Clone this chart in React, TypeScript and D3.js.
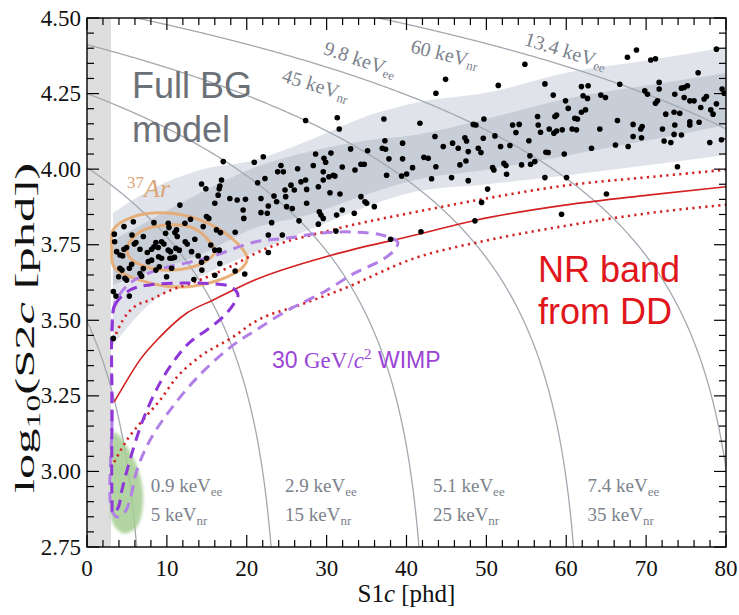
import React from 'react';
import * as d3 from 'd3';

const WIDTH = 739;
const HEIGHT = 615;

// Axes
const X_DOMAIN = [0, 80];
const Y_DOMAIN = [2.75, 4.5];
const X_MAJOR = [0, 10, 20, 30, 40, 50, 60, 70, 80];
const Y_MAJOR = [2.75, 3.0, 3.25, 3.5, 3.75, 4.0, 4.25, 4.5];
const S1_THRESHOLD = 3;

// Detector constants used for constant-energy contours
const G1 = 0.1136;
const G2 = 47.1;
const W_KEV = 0.0135;
const CONTOUR_KEVEE = [0.9, 2.9, 5.1, 7.4, 9.8, 13.4];
const CONTOUR_KEVNR = [5, 15, 25, 35, 45, 60];

// Background model bands (S1c, log10 S2c)
const BAND_S1 = [3.25, 7.88, 14.14, 21.03, 27.9, 35.42, 41.05, 50.44, 60.45, 70.46, 80];
const OUTER_TOP = [3.855, 3.931, 3.997, 4.03, 4.096, 4.179, 4.219, 4.255, 4.321, 4.361, 4.404];
const OUTER_BOTTOM = [3.418, 3.555, 3.645, 3.725, 3.8, 3.88, 3.925, 3.951, 3.981, 4.014, 4.047];
const INNER_TOP = [3.766, 3.832, 3.921, 4.006, 4.058, 4.096, 4.113, 4.169, 4.235, 4.278, 4.318];
const INNER_BOTTOM = [3.617, 3.66, 3.716, 3.805, 3.85, 3.92, 3.964, 4.0, 4.047, 4.096, 4.146];

// 37Ar contours
const AR_OUTER = [[3.3, 3.8], [5.76, 3.842], [10.0, 3.855], [14.14, 3.832], [17.9, 3.776], [20.0, 3.712], [19.8, 3.685], [17.5, 3.643], [12.0, 3.61], [6.63, 3.633], [3.4, 3.676], [3.1, 3.74]];
const AR_INNER = [[5.0, 3.739], [6.6, 3.792], [10.0, 3.815], [13.3, 3.805], [15.4, 3.759], [16.0, 3.726], [14.5, 3.69], [10.8, 3.666], [7.5, 3.676], [5.4, 3.706]];

// Low-energy region
const GREEN_REGION = [[3.4, 3.13], [5.3, 3.07], [6.7, 2.98], [7.0, 2.89], [6.2, 2.815], [4.6, 2.795], [3.2, 2.83], [3.0, 2.97], [3.0, 3.08]];

// 30 GeV WIMP contours
const WIMP_INNER = [[3.13, 3.468], [3.5, 3.55], [5.38, 3.6], [7.88, 3.617], [12.0, 3.623], [16.0, 3.62], [18.1, 3.61], [18.9, 3.584], [18.3, 3.551], [16.9, 3.508], [15.0, 3.468], [12.9, 3.428], [11.26, 3.379], [9.14, 3.293], [7.0, 3.17], [5.38, 3.038], [4.38, 2.939], [3.88, 2.879], [3.25, 2.862], [3.13, 2.906], [3.13, 3.236]];
const WIMP_OUTER = [[3.13, 2.87], [3.13, 3.17], [3.13, 3.468], [3.5, 3.557], [5.38, 3.623], [8.76, 3.666], [12.5, 3.69], [15.4, 3.709], [21.0, 3.759], [25.2, 3.772], [29.4, 3.789], [33.5, 3.792], [36.9, 3.782], [38.9, 3.759], [38.5, 3.733], [36.9, 3.699], [33.5, 3.656], [29.4, 3.59], [25.2, 3.534], [21.0, 3.465], [18.3, 3.418], [14.1, 3.319], [10.4, 3.203], [7.9, 3.104], [6.26, 3.005], [5.38, 2.906], [4.76, 2.866], [3.88, 2.849]];

// NR band from DD calibration
const NR_MEDIAN = [[3.4, 3.23], [4.5, 3.279], [6.63, 3.369], [9.14, 3.445], [12.5, 3.524], [15.8, 3.567], [21.0, 3.633], [30.7, 3.716], [41.1, 3.782], [48.8, 3.832], [59.8, 3.881], [70.2, 3.914], [80, 3.942]];
const NR_UPPER = [[3.3, 3.435], [4.5, 3.501], [5.76, 3.541], [7.9, 3.567], [10.0, 3.594], [14.1, 3.633], [19.1, 3.693], [21.0, 3.72], [30.7, 3.799], [41.1, 3.858], [50.4, 3.905], [60.5, 3.948], [70.5, 3.974], [80, 3.998]];
const NR_LOWER = [[3.4, 3.031], [5.0, 3.104], [7.0, 3.17], [9.14, 3.236], [11.26, 3.312], [14.1, 3.379], [18.3, 3.445], [21.0, 3.495], [26.7, 3.551], [31.7, 3.6], [41.1, 3.706], [50.4, 3.766], [60.5, 3.815], [70.5, 3.855], [80, 3.882]];

// Observed events (S1c [phd], log10 S2c [phd])
const EVENTS = [
  [14.34, 3.951], [14.88, 3.935], [16.84, 3.964], [16.63, 3.944], [16.55, 3.935], [16.42, 3.914], [16.0, 3.887], [17.88, 3.903], [18.8, 3.898], [19.84, 3.9],
  [11.63, 3.881], [19.55, 3.865], [19.63, 3.837], [14.96, 3.843], [15.25, 3.837], [12.96, 3.834], [12.26, 3.821], [8.38, 3.823], [10.17, 3.821], [5.8, 3.826],
  [4.63, 3.81], [10.26, 3.807], [11.21, 3.799], [11.0, 3.79], [9.84, 3.788], [14.55, 3.81], [16.21, 3.799], [16.71, 3.79], [18.55, 3.791], [3.42, 3.785],
  [3.46, 3.76], [5.63, 3.782], [5.92, 3.752], [7.05, 3.777], [6.13, 3.757], [8.63, 3.757], [9.34, 3.76], [9.63, 3.752], [8.38, 3.743], [8.92, 3.741],
  [8.09, 3.735], [7.55, 3.724], [6.63, 3.735], [4.96, 3.741], [3.71, 3.727], [4.46, 3.713], [4.63, 3.735], [4.13, 3.716], [7.67, 3.694], [8.09, 3.699],
  [10.17, 3.732], [10.46, 3.727], [11.13, 3.738], [11.3, 3.777], [12.3, 3.76], [12.55, 3.752], [13.09, 3.727], [13.5, 3.768], [13.92, 3.713], [14.34, 3.692],
  [14.96, 3.705], [15.5, 3.749], [16.0, 3.732], [16.55, 3.732], [16.63, 3.688], [14.38, 3.666], [13.38, 3.635], [11.55, 3.732], [10.67, 3.705], [10.96, 3.708],
  [10.38, 3.705], [8.96, 3.71], [9.34, 3.705], [9.05, 3.677], [10.59, 3.672], [9.96, 3.644], [8.63, 3.666], [7.05, 3.671], [6.63, 3.655], [6.84, 3.646],
  [5.59, 3.685], [5.3, 3.672], [4.13, 3.672], [4.38, 3.666], [4.75, 3.639], [4.96, 3.633], [3.96, 3.644], [3.3, 3.595], [3.63, 3.58], [5.3, 3.58],
  [18.55, 3.663], [19.75, 3.653], [16.0, 3.649], [3.29, 3.44],
  [17.06, 4.025], [20.94, 4.023],
  [27.37, 4.161], [31.33, 4.17], [31.58, 4.133], [37.17, 4.166], [37.3, 4.094], [39.51, 4.086], [28.62, 4.05], [29.67, 4.036], [29.88, 4.023], [30.54, 4.053],
  [33.0, 4.067], [35.13, 4.061], [36.97, 4.069], [37.38, 4.066], [37.8, 4.034], [39.51, 4.034], [22.07, 4.041], [24.28, 4.012], [26.37, 4.001], [28.33, 4.012],
  [31.96, 4.007], [34.3, 4.016], [34.71, 4.016],
  [54.82, 4.347], [44.89, 4.297], [43.68, 4.251], [51.49, 4.277], [57.33, 4.282], [58.37, 4.245], [59.91, 4.226], [60.25, 4.201], [41.68, 4.152], [48.36, 4.148],
  [48.69, 4.146], [49.69, 4.166], [53.28, 4.146], [54.11, 4.148], [53.7, 4.121], [56.41, 4.174], [56.49, 4.146], [56.78, 4.122], [57.87, 4.133], [58.45, 4.119],
  [58.79, 4.126], [59.5, 4.13], [58.58, 4.174], [58.79, 4.179], [43.56, 4.108], [44.6, 4.075], [45.77, 4.086], [46.48, 4.069], [47.31, 4.104], [47.52, 4.093],
  [47.73, 4.058], [48.98, 4.069], [49.32, 4.055], [49.61, 4.102], [51.07, 4.11], [51.78, 4.075], [52.95, 4.078], [55.32, 4.094], [55.45, 4.044], [56.07, 4.025],
  [55.53, 4.016], [57.45, 4.056], [57.74, 4.055], [59.75, 4.05], [42.18, 4.039], [42.72, 4.036], [40.76, 4.005], [43.68, 4.008], [46.69, 4.014], [47.44, 4.027],
  [50.78, 4.005], [50.94, 3.997], [52.2, 4.019], [52.45, 4.012], [52.53, 3.983], [54.41, 4.014], [45.64, 3.972], [43.14, 3.968], [57.33, 3.972], [60.04, 3.972],
  [68.79, 4.394], [67.66, 4.37], [70.58, 4.361], [71.17, 4.365], [78.8, 4.397], [76.51, 4.319], [66.7, 4.281], [61.9, 4.273], [62.74, 4.276], [62.11, 4.243],
  [62.66, 4.234], [64.33, 4.245], [64.91, 4.237], [69.83, 4.259], [70.17, 4.248], [71.63, 4.287], [71.63, 4.265], [71.17, 4.218], [71.42, 4.226], [73.59, 4.248],
  [74.42, 4.268], [74.76, 4.27], [75.17, 4.276], [74.76, 4.237], [75.47, 4.226], [76.0, 4.226], [76.84, 4.204], [77.26, 4.232], [77.55, 4.24], [79.51, 4.265],
  [79.76, 4.251], [78.8, 4.216], [78.09, 4.196], [78.38, 4.182], [61.07, 4.168], [61.4, 4.166], [62.41, 4.196], [61.9, 4.188], [60.74, 4.133], [61.28, 4.13],
  [64.2, 4.133], [66.41, 4.161], [68.37, 4.148], [69.33, 4.133], [69.5, 4.141], [68.37, 4.108], [69.42, 4.104], [72.46, 4.182], [73.5, 4.188], [74.21, 4.185],
  [73.59, 4.146], [75.47, 4.157], [75.47, 4.146], [76.63, 4.155], [72.05, 4.133], [72.25, 4.093], [73.09, 4.088], [73.5, 4.115], [74.42, 4.113], [77.97, 4.088],
  [79.43, 4.097], [63.16, 4.069], [66.16, 4.08], [67.75, 4.075], [73.92, 4.008],
  [23.87, 3.991], [24.58, 3.991], [29.58, 3.991], [30.83, 3.98], [31.04, 3.977], [33.55, 3.997], [37.51, 3.98], [39.39, 3.977], [40.01, 3.984], [22.28, 3.969],
  [21.36, 3.955], [26.79, 3.958], [27.37, 3.964], [25.54, 3.947], [25.95, 3.931], [27.5, 3.933], [28.96, 3.942], [29.58, 3.964], [30.29, 3.975], [24.79, 3.931],
  [24.87, 3.909], [23.41, 3.911], [23.74, 3.892], [22.7, 3.878], [21.78, 3.903], [24.99, 3.876], [25.7, 3.87], [27.5, 3.887], [30.42, 3.922], [31.67, 3.918],
  [34.3, 3.909], [35.01, 3.887], [34.8, 3.892], [35.97, 3.876], [31.96, 3.865], [33.46, 3.854], [31.25, 3.848], [29.58, 3.837], [29.08, 3.859], [29.29, 3.848],
  [21.78, 3.856], [22.57, 3.854], [23.12, 3.823], [26.54, 3.829], [28.96, 3.818], [22.7, 3.782], [24.45, 3.782], [22.7, 3.724], [31.17, 3.795], [38.01, 3.768],
  [47.73, 3.962], [50.15, 3.934], [49.4, 3.89], [59.41, 3.851], [48.57, 3.829], [41.81, 3.793], [65.03, 3.918],
];

const SERIF = '"Liberation Serif", "Times New Roman", serif';
const SANS = '"Liberation Sans", Arial, sans-serif';

const x = d3.scaleLinear().domain(X_DOMAIN).range([87, 726]);
const y = d3.scaleLinear().domain(Y_DOMAIN).range([547, 18]);

const logS2 = (keVee: number, s1: number) => Math.log10(G2 * (keVee / W_KEV - s1 / G1));
const s1Max = (keVee: number) => (keVee / W_KEV) * G1;

function contourPath(keVee: number) {
  const end = s1Max(keVee);
  const pts: [number, number][] = [];
  const n = 400;
  for (let i = 0; i <= n; i++) {
    const s1 = Math.min(80.5, end) * (i / n);
    const v = logS2(keVee, s1);
    if (!isFinite(v) || v < 2.7) break;
    pts.push([x(s1), y(v)]);
  }
  return d3.line()(pts) || '';
}

const closedLine = d3
  .line<number[]>()
  .x((d) => x(d[0]))
  .y((d) => y(d[1]))
  .curve(d3.curveCatmullRomClosed.alpha(0.5));

const openLine = d3
  .line<number[]>()
  .x((d) => x(d[0]))
  .y((d) => y(d[1]))
  .curve(d3.curveMonotoneX);

function bandPath(top: number[], bottom: number[]) {
  return (
    d3
      .area<number>()
      .x((i) => x(BAND_S1[i]))
      .y0((i) => y(bottom[i]))
      .y1((i) => y(top[i]))
      .curve(d3.curveMonotoneX)(BAND_S1.map((_, i) => i)) || ''
  );
}

// Place a rotated label alongside a contour
function alongCurve(keVee: number, s1: number, offset: number) {
  const p0 = [x(s1 - 0.5), y(logS2(keVee, s1 - 0.5))];
  const p1 = [x(s1 + 0.5), y(logS2(keVee, s1 + 0.5))];
  const ang = Math.atan2(p1[1] - p0[1], p1[0] - p0[0]);
  const cx = x(s1);
  const cy = y(logS2(keVee, s1));
  return {
    x: cx - Math.sin(ang) * offset,
    y: cy + Math.cos(ang) * offset,
    deg: (ang * 180) / Math.PI,
  };
}

function EnergyLabel({ px, py, deg, value, unit }: { px: number; py: number; deg: number; value: string; unit: string }) {
  return (
    <text
      transform={`translate(${px},${py}) rotate(${deg})`}
      textAnchor="middle"
      dominantBaseline="central"
      fontFamily={SERIF}
      fontSize={20}
      fill="#7b828b"
    >
      {value} keV
      <tspan fontSize={13} dy={5}>
        {unit}
      </tspan>
    </text>
  );
}

export default function App() {
  const [x0, x1] = x.range();
  const [y0, y1] = y.range();
  const xMinor = d3.range(0, 80.001, 2);
  const yMinor = d3.range(2.75, 4.5001, 0.05);

  const bottomLabels = [0, 1, 2, 3].map((i) => {
    const cross = s1Max(CONTOUR_KEVEE[i]) - (Math.pow(10, 2.75) / G2) * G1;
    return { i, px: x(cross) + 14 };
  });

  const l98 = alongCurve(CONTOUR_KEVEE[4], 33.5, -18);
  const l45 = alongCurve(CONTOUR_KEVEE[4], 29.4, 20);
  const l60 = alongCurve(CONTOUR_KEVEE[5], 45.4, 20);
  const l134 = alongCurve(CONTOUR_KEVEE[5], 59.4, -15);

  return (
    <svg width={WIDTH} height={HEIGHT} style={{ position: 'absolute', left: 0, top: 0, background: '#fff' }}>
      <defs>
        <clipPath id="plotClip">
          <rect x={x0} y={y1} width={x1 - x0} height={y0 - y1} />
        </clipPath>
        <filter id="soft" x="-50%" y="-50%" width="200%" height="200%">
          <feGaussianBlur stdDeviation="1.8" />
        </filter>
      </defs>

      <g clipPath="url(#plotClip)">
        {/* analysis threshold strip */}
        <rect x={x(0)} y={y1} width={x(S1_THRESHOLD) - x(0)} height={y0 - y1} fill="#dedede" />

        {/* background model bands */}
        <path d={bandPath(OUTER_TOP, OUTER_BOTTOM)} fill="#e0e4ea" />
        <path d={bandPath(INNER_TOP, INNER_BOTTOM)} fill="#c8ced7" />

        {/* constant-energy contours */}
        {CONTOUR_KEVEE.map((e) => (
          <path key={e} d={contourPath(e)} fill="none" stroke="#a3a9b0" strokeWidth={1.3} />
        ))}

        {/* low-energy region */}
        <g filter="url(#soft)">
          <path d={closedLine(GREEN_REGION) || ''} fill="#a5cc92" opacity={0.85} />
        </g>

        {/* 37Ar */}
        <path d={closedLine(AR_OUTER) || ''} fill="none" stroke="#e6a96e" strokeWidth={3} opacity={0.9} />
        <path d={closedLine(AR_INNER) || ''} fill="none" stroke="#e6a96e" strokeWidth={3} opacity={0.9} />

        {/* NR band */}
        <path d={openLine(NR_UPPER) || ''} fill="none" stroke="#d22222" strokeWidth={2.6} strokeDasharray="2.2 4.3" />
        <path d={openLine(NR_LOWER) || ''} fill="none" stroke="#d22222" strokeWidth={2.6} strokeDasharray="2.2 4.3" />
        <path d={openLine(NR_MEDIAN) || ''} fill="none" stroke="#d42020" strokeWidth={1.6} />

        {/* WIMP contours */}
        <path d={closedLine(WIMP_OUTER) || ''} fill="none" stroke="#b27fe6" strokeWidth={3} strokeDasharray="11 7" />
        <path d={closedLine(WIMP_INNER) || ''} fill="none" stroke="#8f36d8" strokeWidth={3} strokeDasharray="11 7" />

        {/* events */}
        {EVENTS.map((d, i) => (
          <circle key={i} cx={x(d[0])} cy={y(d[1])} r={2.8} fill="#000" />
        ))}
      </g>

      {/* contour labels */}
      {bottomLabels.map(({ i, px }) => (
        <g key={i} fontFamily={SERIF} fill="#7b828b">
          <text x={px} y={492} fontSize={19}>
            {CONTOUR_KEVEE[i]} keV
            <tspan fontSize={13} dy={4}>ee</tspan>
          </text>
          <text x={px} y={521} fontSize={19}>
            {CONTOUR_KEVNR[i]} keV
            <tspan fontSize={13} dy={4}>nr</tspan>
          </text>
        </g>
      ))}
      <EnergyLabel px={l98.x} py={l98.y} deg={l98.deg} value={String(CONTOUR_KEVEE[4])} unit="ee" />
      <EnergyLabel px={l45.x} py={l45.y} deg={l45.deg} value={String(CONTOUR_KEVNR[4])} unit="nr" />
      <EnergyLabel px={l60.x} py={l60.y} deg={l60.deg} value={String(CONTOUR_KEVNR[5])} unit="nr" />
      <EnergyLabel px={l134.x} py={l134.y} deg={l134.deg} value={String(CONTOUR_KEVEE[5])} unit="ee" />

      {/* region labels */}
      <g fontFamily={SANS} fontSize={36} fill="#6c7178">
        <text x={132} y={98}>Full BG</text>
        <text x={132} y={142}>model</text>
      </g>
      <g fontFamily={SANS} fontSize={36} fill="#e0161b">
        <text x={538} y={282}>NR band</text>
        <text x={538} y={324}>from DD</text>
      </g>
      <text x={127} y={197} fill="#dba677">
        <tspan fontFamily={SERIF} fontSize={17} dy={-9}>37</tspan>
        <tspan fontFamily={SERIF} fontStyle="italic" fontSize={26} dy={9}>Ar</tspan>
      </text>
      <text x={272} y={368} fill="#9a45d6" fontSize={23}>
        <tspan fontFamily={SANS}>30 </tspan>
        <tspan fontFamily={SERIF}>GeV/</tspan>
        <tspan fontFamily={SERIF} fontStyle="italic">c</tspan>
        <tspan fontFamily={SERIF} fontSize={15} dy={-9}>2</tspan>
        <tspan fontFamily={SANS} dy={9}> WIMP</tspan>
      </text>

      {/* frame and ticks */}
      <rect x={x0} y={y1} width={x1 - x0} height={y0 - y1} fill="none" stroke="#000" strokeWidth={1.4} />
      <g stroke="#000" strokeWidth={1.2}>
        {xMinor.map((v) => {
          const major = Math.abs(v % 10) < 1e-6;
          const len = major ? 12 : 7;
          return (
            <g key={`x${v}`}>
              <line x1={x(v)} x2={x(v)} y1={y0} y2={y0 - len} />
              <line x1={x(v)} x2={x(v)} y1={y1} y2={y1 + len} />
            </g>
          );
        })}
        {yMinor.map((v) => {
          const major = Math.abs(Math.round(v * 4) - v * 4) < 1e-6;
          const len = major ? 12 : 7;
          return (
            <g key={`y${v.toFixed(2)}`}>
              <line x1={x0} x2={x0 + len} y1={y(v)} y2={y(v)} />
              <line x1={x1} x2={x1 - len} y1={y(v)} y2={y(v)} />
            </g>
          );
        })}
      </g>
      <g fontFamily={SERIF} fontSize={23} fill="#111">
        {X_MAJOR.map((v) => (
          <text key={v} x={x(v)} y={576} textAnchor="middle">
            {v}
          </text>
        ))}
        {Y_MAJOR.map((v) => (
          <text key={v} x={81} y={y(v)} textAnchor="end" dominantBaseline="central">
            {v.toFixed(2)}
          </text>
        ))}
      </g>

      {/* axis titles */}
      <text x={(x0 + x1) / 2} y={602} textAnchor="middle" fontFamily={SERIF} fontSize={25} fill="#111">
        S1<tspan fontStyle="italic">c</tspan> [phd]
      </text>
      <text
        transform="translate(34,328) rotate(-90)"
        textAnchor="middle"
        fontFamily={SERIF}
        fontSize={27}
        fill="#111"
        textLength={330}
        lengthAdjust="spacingAndGlyphs"
      >
        log
        <tspan fontSize={18} dy={6}>10</tspan>
        <tspan dy={-6}>(S2</tspan>
        <tspan fontStyle="italic">c</tspan>
        <tspan> [phd])</tspan>
      </text>
    </svg>
  );
}
